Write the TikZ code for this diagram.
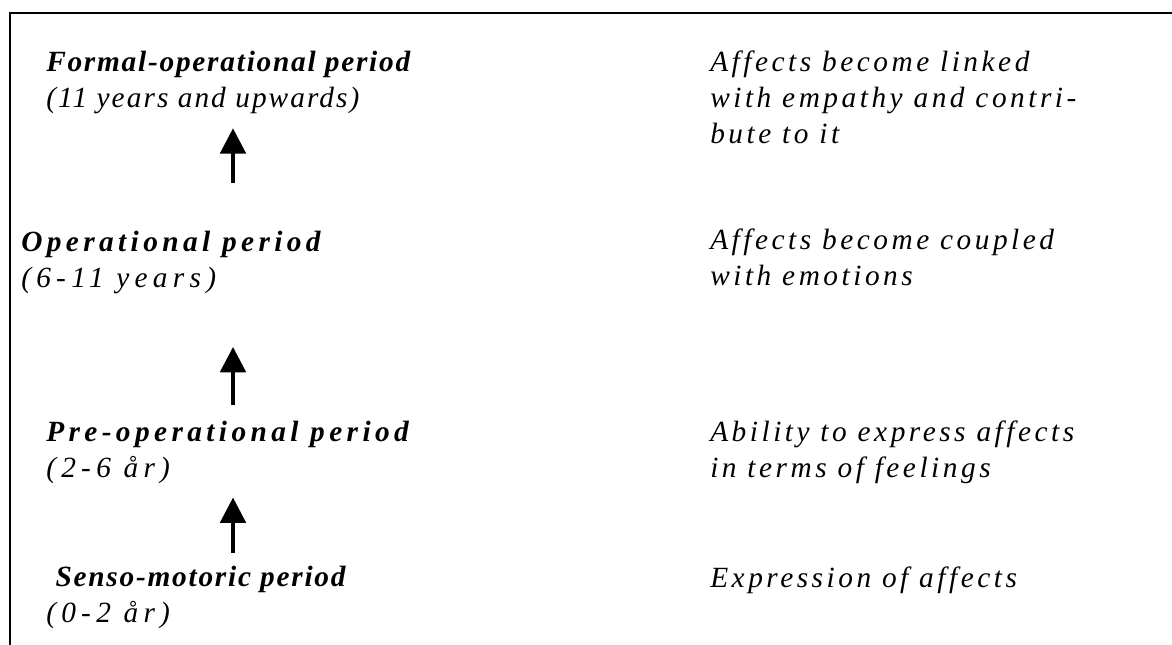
\documentclass[tikz,border=0pt]{standalone}
\usepackage{fontspec}
\setmainfont{Liberation Serif}
\newfontfamily\spacedA[LetterSpace=6]{Liberation Serif}
\newfontfamily\spacedB[LetterSpace=7]{Liberation Serif}
\newfontfamily\spacedC[LetterSpace=15]{Liberation Serif}
\newfontfamily\spacedD[LetterSpace=18]{Liberation Serif}
\newfontfamily\spacedR[LetterSpace=12]{Liberation Serif}
\usetikzlibrary{arrows.meta}

\begin{document}
\begin{tikzpicture}[x=0.75pt,y=-0.75pt,
  period/.style={anchor=base west,inner sep=0pt,align=left,
    font=\fontsize{22}{27}\selectfont\itshape},
  affect/.style={anchor=base west,inner sep=0pt,align=left,
    font=\spacedR\fontsize{22}{27}\selectfont\itshape},
  up/.style={line width=3pt,-{Triangle[width=19pt,length=19pt]}}]
  \useasboundingbox (0,0) rectangle (1172,644);
  \draw[line width=1.5pt] (1180,12.5) -| (9.5,650);

  % periods (anchored on their last line)
  \node[period] (formal) at (46,107) {{\spacedA\bfseries Formal-operational period}\\{\spacedB(11 years and upwards)}};
  \node[period] (oper)   at (21,287) {{\spacedC\bfseries Operational period}\\{\spacedD(6-11 years)}};
  \node[period] (preop)  at (46,477) {{\spacedC\bfseries Pre-operational period}\\{\spacedD(2-6 år)}};
  \node[period] (senso)  at (46,622) {{\spacedA\bfseries\hspace*{7pt}Senso-motoric period}\\{\spacedD(0-2 år)}};

  % affects
  \node[affect] (linked)  at (710,143) {Affects become linked\\with empathy and contri-\\bute to it};
  \node[affect] (coupled) at (710,285) {Affects become coupled\\with emotions};
  \node[affect] (ability) at (710,477) {Ability to express affects\\in terms of feelings};
  \node[affect] (expr)    at (710,587) {Expression of affects};

  % arrows
  \coordinate (col) at (233,0);
  \draw[up,shorten <=35.6pt,shorten >=11pt] (col |- oper.north) -- (col |- formal.south);
  \draw[up,shorten <=11.6pt,shorten >=40pt] (col |- preop.north) -- (col |- oper.south);
  \draw[up,shorten <=9.4pt,shorten >=10.5pt] (col |- senso.north) -- (col |- preop.south);
\end{tikzpicture}
\end{document}
